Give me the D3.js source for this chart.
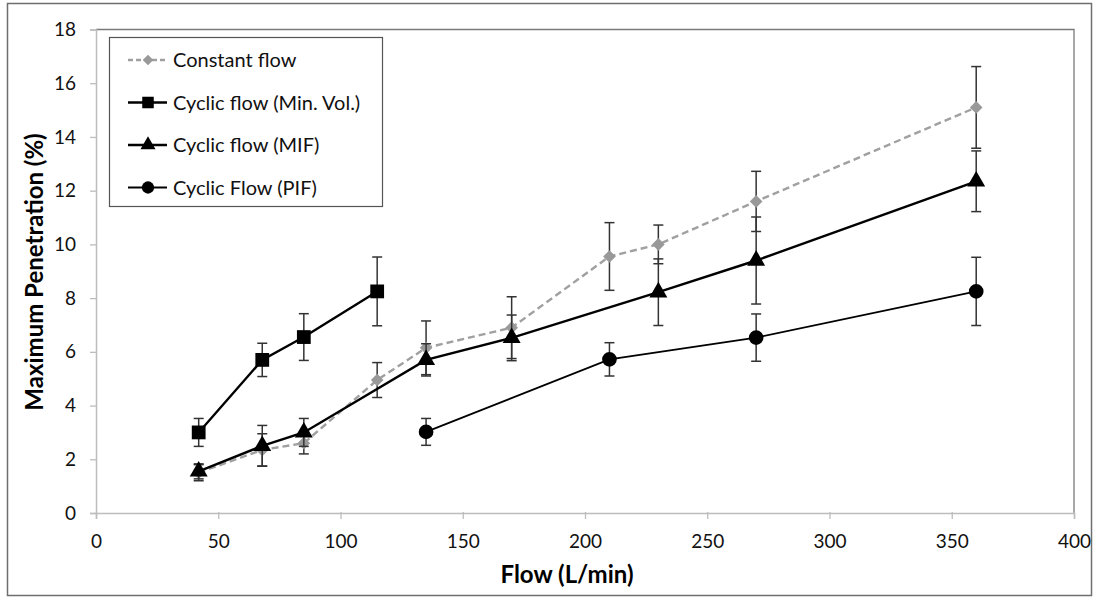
<!DOCTYPE html>
<html>
<head>
<meta charset="utf-8">
<script src="https://cdn.jsdelivr.net/npm/d3@7"></script>
<style>
  body { margin: 0; background: #fff; }
  svg { font-family: Lato, "Open Sans", sans-serif; }
</style>
</head>
<body>
<svg id="chart" width="1095" height="598"></svg>
<script>
// data
const constX   = [42, 68, 85, 115, 135, 170, 210, 230, 270, 360];
const constY   = [1.5, 2.35, 2.6, 4.95, 6.15, 6.9, 9.55, 10.0, 11.6, 15.1];
const constErr = [0.3, 0.6, 0.4, 0.65, 1.0, 1.15, 1.26, 0.72, 1.12, 1.52];

const minVolX   = [42, 68, 85, 115];
const minVolY   = [3.0, 5.7, 6.55, 8.25];
const minVolErr = [0.52, 0.62, 0.87, 1.28];

const mifX   = [42, 68, 85, 135, 170, 230, 270, 360];
const mifY   = [1.55, 2.5, 3.0, 5.7, 6.52, 8.22, 9.4, 12.35];
const mifErr = [0.28, 0.76, 0.52, 0.6, 0.85, 1.24, 1.62, 1.13];

const pifX   = [135, 210, 270, 360];
const pifY   = [3.02, 5.72, 6.53, 8.25];
const pifErr = [0.5, 0.62, 0.88, 1.27];

const xTicks = [0, 50, 100, 150, 200, 250, 300, 350, 400];
const yTicks = [0, 2, 4, 6, 8, 10, 12, 14, 16, 18];

const series = [
  {name: "Constant flow", xs: constX, ys: constY, err: constErr, sym: d3.symbolSquare, size: 80, rot: 45,
   color: "#a0a0a0", dash: "7,4", width: 2.4},
  {name: "Cyclic flow (Min. Vol.)", xs: minVolX, ys: minVolY, err: minVolErr, sym: d3.symbolSquare, size: 190, rot: 0,
   color: "#000", dash: null, width: 2.4},
  {name: "Cyclic flow (MIF)", xs: mifX, ys: mifY, err: mifErr, sym: d3.symbolTriangle, size: 140, rot: 0,
   color: "#000", dash: null, width: 2.4},
  {name: "Cyclic Flow (PIF)", xs: pifX, ys: pifY, err: pifErr, sym: d3.symbolCircle, size: 170, rot: 0,
   color: "#000", dash: null, width: 1.8}
];

const svg = d3.select("#chart");

// outer frame
svg.append("rect")
  .attr("x", 7.5).attr("y", 3.5).attr("width", 1084).attr("height", 592)
  .attr("fill", "none").attr("stroke", "#6e6e6e").attr("stroke-width", 1.5);

const x = d3.scaleLinear().domain([0, 400]).range([96, 1074]);
const y = d3.scaleLinear().domain([0, 18]).range([513, 29.5]);

// plot area border (top + right)
svg.append("path")
  .attr("d", `M${x(0)},${y(18)}H${x(400)}V${y(0)}`)
  .attr("fill", "none").attr("stroke", "#7a7a7a").attr("stroke-width", 1.3);

const xAxis = svg.append("g")
  .attr("transform", `translate(0,${y(0)})`)
  .call(d3.axisBottom(x).tickValues(xTicks).tickSize(6).tickPadding(16).tickFormat(d3.format("d")));
const yAxis = svg.append("g")
  .attr("transform", `translate(${x(0)},0)`)
  .call(d3.axisLeft(y).tickValues(yTicks).tickSize(6).tickPadding(14).tickFormat(d3.format("d")));

[xAxis, yAxis].forEach(a => {
  a.select(".domain").attr("stroke", "#bdbdbd").attr("stroke-width", 1.5);
  a.selectAll(".tick line").attr("stroke", "#bdbdbd").attr("stroke-width", 1.3);
  a.selectAll(".tick text").attr("fill", "#111").style("font-size", "19px")
    .style("font-family", "Lato, 'Open Sans', sans-serif");
});
xAxis.selectAll(".tick line").attr("y1", -1).attr("y2", 6);

// axis titles
svg.append("text")
  .attr("x", 567).attr("y", 583)
  .attr("text-anchor", "middle")
  .style("font-size", "24px").style("font-weight", "bold")
  .text("Flow (L/min)");

svg.append("text")
  .attr("transform", "translate(43,272) rotate(-90)")
  .attr("text-anchor", "middle")
  .style("font-size", "24px").style("font-weight", "bold")
  .text("Maximum Penetration (%)");

// series
series.forEach(s => {
  const pts = s.xs.map((v, i) => ({x: v, y: s.ys[i], e: s.err[i]}));
  const g = svg.append("g");

  g.append("path")
    .datum(pts)
    .attr("fill", "none")
    .attr("stroke", s.color)
    .attr("stroke-width", s.width)
    .attr("stroke-dasharray", s.dash)
    .attr("d", d3.line().x(d => x(d.x)).y(d => y(d.y)));

  const eb = g.selectAll(".err").data(pts).enter().append("g").attr("stroke", "#333").attr("stroke-width", 1.5);
  eb.append("line")
    .attr("x1", d => x(d.x)).attr("x2", d => x(d.x))
    .attr("y1", d => y(d.y + d.e)).attr("y2", d => y(d.y - d.e));
  eb.append("line")
    .attr("x1", d => x(d.x) - 5).attr("x2", d => x(d.x) + 5)
    .attr("y1", d => y(d.y + d.e)).attr("y2", d => y(d.y + d.e));
  eb.append("line")
    .attr("x1", d => x(d.x) - 5).attr("x2", d => x(d.x) + 5)
    .attr("y1", d => y(d.y - d.e)).attr("y2", d => y(d.y - d.e));

  g.selectAll(".mk").data(pts).enter().append("path")
    .attr("transform", d => `translate(${x(d.x)},${y(d.y)}) rotate(${s.rot})`)
    .attr("d", d3.symbol().type(s.sym).size(s.size))
    .attr("fill", s.color === "#000" ? "#000" : "#999");
});

// legend
const leg = svg.append("g");
leg.append("rect")
  .attr("x", 109.5).attr("y", 37.5).attr("width", 273).attr("height", 169)
  .attr("fill", "#fff").attr("stroke", "#555").attr("stroke-width", 1.2);

series.forEach((s, i) => {
  const ly = 60 + i * 42.5;
  leg.append("line")
    .attr("x1", 128).attr("x2", 167).attr("y1", ly).attr("y2", ly)
    .attr("stroke", s.color).attr("stroke-width", s.width)
    .attr("stroke-dasharray", s.dash ? "5,3" : null);
  leg.append("path")
    .attr("transform", `translate(148,${ly}) rotate(${s.rot})`)
    .attr("d", d3.symbol().type(s.sym).size(s.size * 0.7))
    .attr("fill", s.color === "#000" ? "#000" : "#999");
  leg.append("text")
    .attr("x", 173).attr("y", ly + 7)
    .style("font-size", "20px").attr("fill", "#111")
    .text(s.name);
});
</script>
</body>
</html>
